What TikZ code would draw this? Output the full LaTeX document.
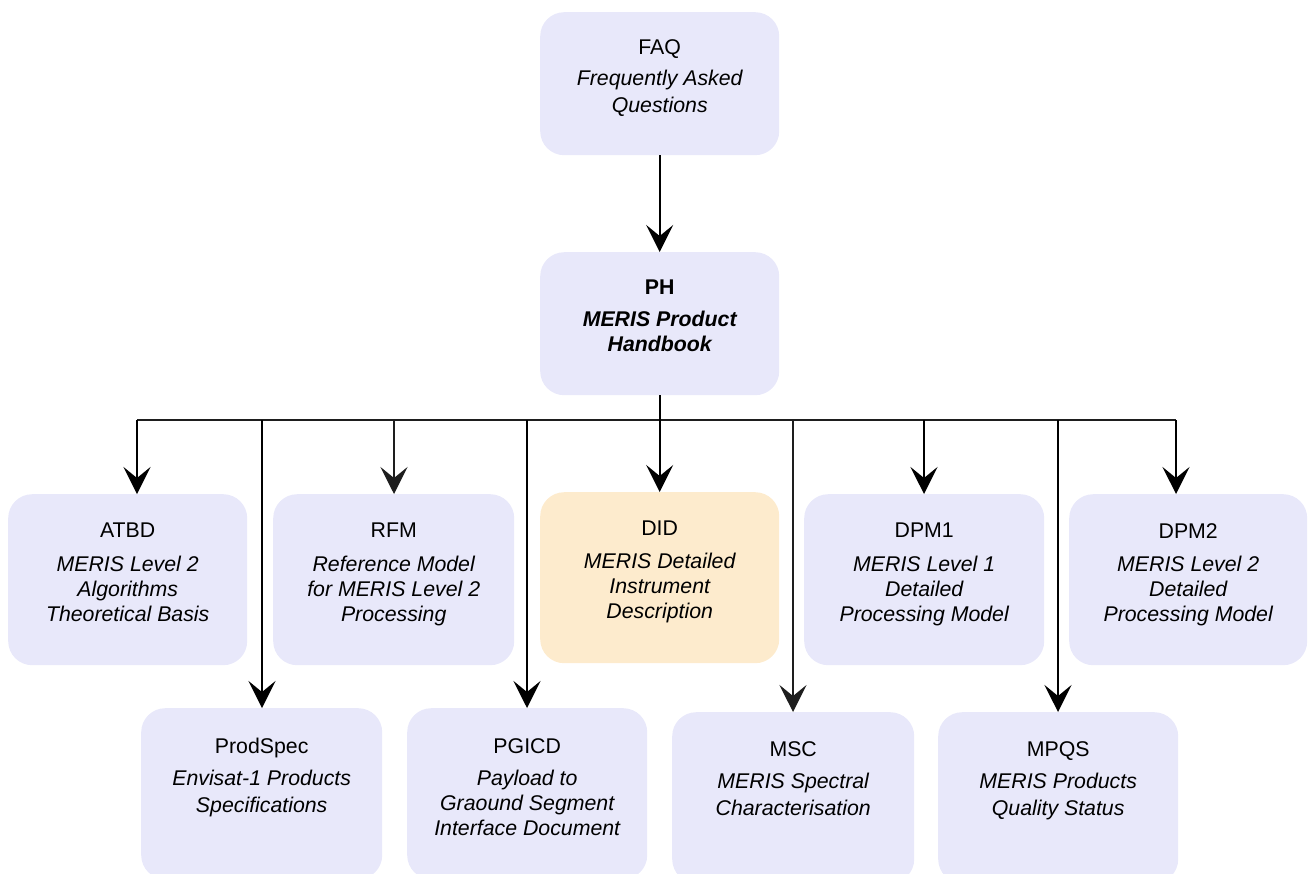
\documentclass[tikz,border=0pt]{standalone}
\usepackage{fontspec}
\setmainfont{Liberation Sans}
\usetikzlibrary{arrows.meta}
\definecolor{boxfill}{RGB}{232,232,250}
\definecolor{didfill}{RGB}{253,235,205}
\definecolor{thinline}{RGB}{30,30,30}
\begin{document}
\begin{tikzpicture}[x=1pt,y=-1pt,
  doc/.style={fill=boxfill, rounded corners=24pt, inner sep=0pt, anchor=north west, minimum height=171pt},
  ttl/.style={anchor=north, inner sep=0pt, font=\fontsize{21.3}{25}\selectfont},
  sub/.style={anchor=north, inner sep=0pt, align=center, font=\fontsize{21.3}{26.5}\selectfont\itshape},
  sub3/.style={sub, font=\fontsize{21.3}{24.8}\selectfont\itshape},
  tip/.style={-{Stealth[length=27pt,width=27pt,inset=11pt]}},
  arr/.style={tip, line width=2.2pt, black},
  thinarr/.style={tip, line width=1.2pt, thinline},
  bus/.style={line width=1.3pt, thinline}
]
\useasboundingbox (0,0) rectangle (1308,873);

% top boxes
\node[doc, minimum width=239pt, minimum height=143pt] (faq) at (540,12) {};
\node[doc, minimum width=239pt, minimum height=143pt] (ph) at (540,252) {};
% first row
\node[doc, minimum width=239pt] (atbd) at (8,494) {};
\node[doc, minimum width=241pt] (rfm) at (273,494) {};
\node[doc, fill=didfill, minimum width=239pt] (did) at (540,492) {};
\node[doc, minimum width=240pt] (dpm1) at (804,494) {};
\node[doc, minimum width=238pt] (dpm2) at (1069,494) {};
% second row
\node[doc, minimum width=241pt] (prodspec) at (141,708) {};
\node[doc, minimum width=240pt] (pgicd) at (407,708) {};
\node[doc, minimum width=242pt] (msc) at (672,712) {};
\node[doc, minimum width=240pt] (mpqs) at (938,712) {};

% texts
\node[ttl] (faq-t) at ([yshift=-27pt]faq.north) {FAQ};
\node[sub] (faq-s) at ([yshift=-58pt]faq.north) {Frequently Asked\\Questions};
\node[ttl, font=\fontsize{21.3}{25}\selectfont\bfseries] (ph-t) at ([yshift=-28pt]ph.north) {PH};
\node[sub, font=\fontsize{21.3}{25}\selectfont\bfseries\itshape] (ph-s) at ([yshift=-59pt]ph.north) {MERIS Product\\Handbook};

\node[ttl] (atbd-t) at ([yshift=-29pt]atbd.north) {ATBD};
\node[sub3] (atbd-s) at ([yshift=-62pt]atbd.north) {MERIS Level 2\\Algorithms\\Theoretical Basis};
\node[ttl] (rfm-t) at ([yshift=-29pt]rfm.north) {RFM};
\node[sub3] (rfm-s) at ([yshift=-62pt]rfm.north) {Reference Model\\for MERIS Level 2\\Processing};
\node[ttl] (did-t) at ([yshift=-29pt]did.north) {DID};
\node[sub3] (did-s) at ([yshift=-61pt]did.north) {MERIS Detailed\\Instrument\\Description};
\node[ttl] (dpm1-t) at ([yshift=-29pt]dpm1.north) {DPM1};
\node[sub3] (dpm1-s) at ([yshift=-62pt]dpm1.north) {MERIS Level 1\\Detailed\\Processing Model};
\node[ttl] (dpm2-t) at ([yshift=-29pt]dpm2.north) {DPM2};
\node[sub3] (dpm2-s) at ([yshift=-62pt]dpm2.north) {MERIS Level 2\\Detailed\\Processing Model};

\node[ttl] (prodspec-t) at ([yshift=-30pt]prodspec.north) {ProdSpec};
\node[sub] (prodspec-s) at ([yshift=-62pt]prodspec.north) {Envisat-1 Products\\Specifications};
\node[ttl] (pgicd-t) at ([yshift=-30pt]pgicd.north) {PGICD};
\node[sub3] (pgicd-s) at ([yshift=-62pt]pgicd.north) {Payload to\\Graound Segment\\Interface Document};
\node[ttl] (msc-t) at ([yshift=-29pt]msc.north) {MSC};
\node[sub] (msc-s) at ([yshift=-61pt]msc.north) {MERIS Spectral\\Characterisation};
\node[ttl] (mpqs-t) at ([yshift=-29pt]mpqs.north) {MPQS};
\node[sub] (mpqs-s) at ([yshift=-61pt]mpqs.north) {MERIS Products\\Quality Status};

% connectors
\draw[arr] (faq) -- (ph);
\coordinate (hub) at (ph.south |- 0,420);
\coordinate (busL) at (137,420);
\coordinate (busR) at (1176,420);
\coordinate (c-atbd) at (137,420);
\coordinate (c-prodspec) at (262,420);
\coordinate (c-rfm) at (394,420);
\coordinate (c-pgicd) at (527,420);
\coordinate (c-msc) at (793,420);
\coordinate (c-dpm1) at (924,420);
\coordinate (c-mpqs) at (1058,420);
\coordinate (c-dpm2) at (1176,420);

\draw[bus] (busL) -- (busR);
\draw[line width=2.2pt] (ph.south) -- (hub);

\draw[arr] (c-atbd) -- (c-atbd |- atbd.north);
\draw[arr] (c-prodspec) -- (c-prodspec |- prodspec.north);
\draw[thinarr] (c-rfm) -- (c-rfm |- rfm.north);
\draw[arr] (c-pgicd) -- (c-pgicd |- pgicd.north);
\draw[arr] (hub) -- (hub |- did.north);
\draw[thinarr] (c-msc) -- (c-msc |- msc.north);
\draw[arr] (c-dpm1) -- (c-dpm1 |- dpm1.north);
\draw[arr] (c-mpqs) -- (c-mpqs |- mpqs.north);
\draw[arr] (c-dpm2) -- (c-dpm2 |- dpm2.north);
\end{tikzpicture}
\end{document}
